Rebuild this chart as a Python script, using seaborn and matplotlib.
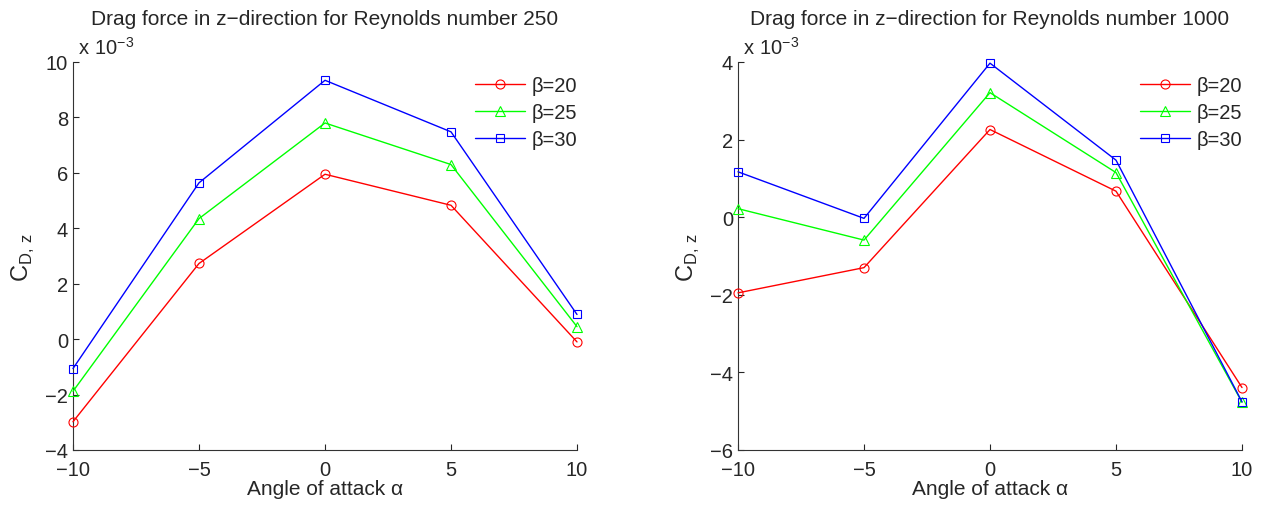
import pandas as pd
import matplotlib.pyplot as plt
import seaborn as sns

alpha = [-10, -5, 0, 5, 10]
betas = ['β=20', 'β=25', 'β=30']

# values in units of 1e-3
re250_b20 = [-2.98, 2.73, 5.95, 4.83, -0.10]
re250_b25 = [-1.88, 4.35, 7.80, 6.30, 0.45]
re250_b30 = [-1.06, 5.64, 9.34, 7.48, 0.89]

re1000_b20 = [-1.95, -1.30, 2.26, 0.67, -4.39]
re1000_b25 = [0.22, -0.59, 3.21, 1.15, -4.77]
re1000_b30 = [1.17, -0.03, 3.97, 1.47, -4.76]

titles = ['Drag force in z\u2212direction for Reynolds number 250',
          'Drag force in z\u2212direction for Reynolds number 1000']

sns.set_style('ticks')
plt.rcParams['font.family'] = ['Liberation Sans', 'DejaVu Sans']
plt.rcParams['xtick.direction'] = 'in'
plt.rcParams['ytick.direction'] = 'in'

colors = {'β=20': '#ff0000', 'β=25': '#00ff00', 'β=30': '#0000ff'}
markers = {'β=20': 'o', 'β=25': '^', 'β=30': 's'}
msizes = {'β=20': 6.5, 'β=25': 6.5, 'β=30': 5.5}


def make_df(b20, b25, b30):
    rows = []
    for b, vals in zip(betas, [b20, b25, b30]):
        for a, v in zip(alpha, vals):
            rows.append({'alpha': a, 'cd': v, 'beta': b})
    return pd.DataFrame(rows)


dfs = [make_df(re250_b20, re250_b25, re250_b30),
       make_df(re1000_b20, re1000_b25, re1000_b30)]
ylims = [(-4, 10), (-6, 4)]
yticks = [range(-4, 11, 2), range(-6, 5, 2)]

fig = plt.figure(figsize=(12.65, 5.06), dpi=100)
axes = [fig.add_axes([73 / 1265, 55 / 506, 504 / 1265, 388 / 506]),
        fig.add_axes([738 / 1265, 55 / 506, 504 / 1265, 388 / 506])]

for i, ax in enumerate(axes):
    df = dfs[i]
    for b in betas:
        d = df[df.beta == b]
        sns.lineplot(data=d, x='alpha', y='cd', ax=ax, color=colors[b],
                     marker=markers[b], markersize=msizes[b], markerfacecolor='none',
                     markeredgecolor=colors[b], markeredgewidth=0.8,
                     linewidth=1, label=b, clip_on=False, zorder=3)
    ax.set_xlim(-10, 10)
    ax.set_ylim(*ylims[i])
    ax.set_xticks(alpha)
    ax.set_yticks(list(yticks[i]))
    ax.tick_params(labelsize=14.5, length=4, width=0.8)
    ax.tick_params(axis='x', pad=7)
    ax.tick_params(axis='y', pad=3.5)
    sns.despine(ax=ax)
    for s in ['left', 'bottom']:
        ax.spines[s].set_linewidth(0.8)
        ax.spines[s].set_color('#333333')
    ax.set_title(titles[i], fontsize=15, pad=27)
    ax.set_xlabel('Angle of attack \u03b1', fontsize=15, labelpad=0.5)
    ax.set_ylabel('C$_{\\mathregular{D,\\,z}}$', fontsize=17, labelpad=6)
    ax.text(0.0, 1.012, ' x 10$^{\\mathregular{\u22123}}$', transform=ax.transAxes,
            fontsize=14.5, ha='left', va='bottom')
    ax.legend(loc='upper right', bbox_to_anchor=(1.0, 0.965), frameon=False,
              fontsize=14.5, handlelength=2.5, handletextpad=0.3, labelspacing=0.4,
              borderaxespad=0, borderpad=0)

fig.savefig('out.png', dpi=100)
